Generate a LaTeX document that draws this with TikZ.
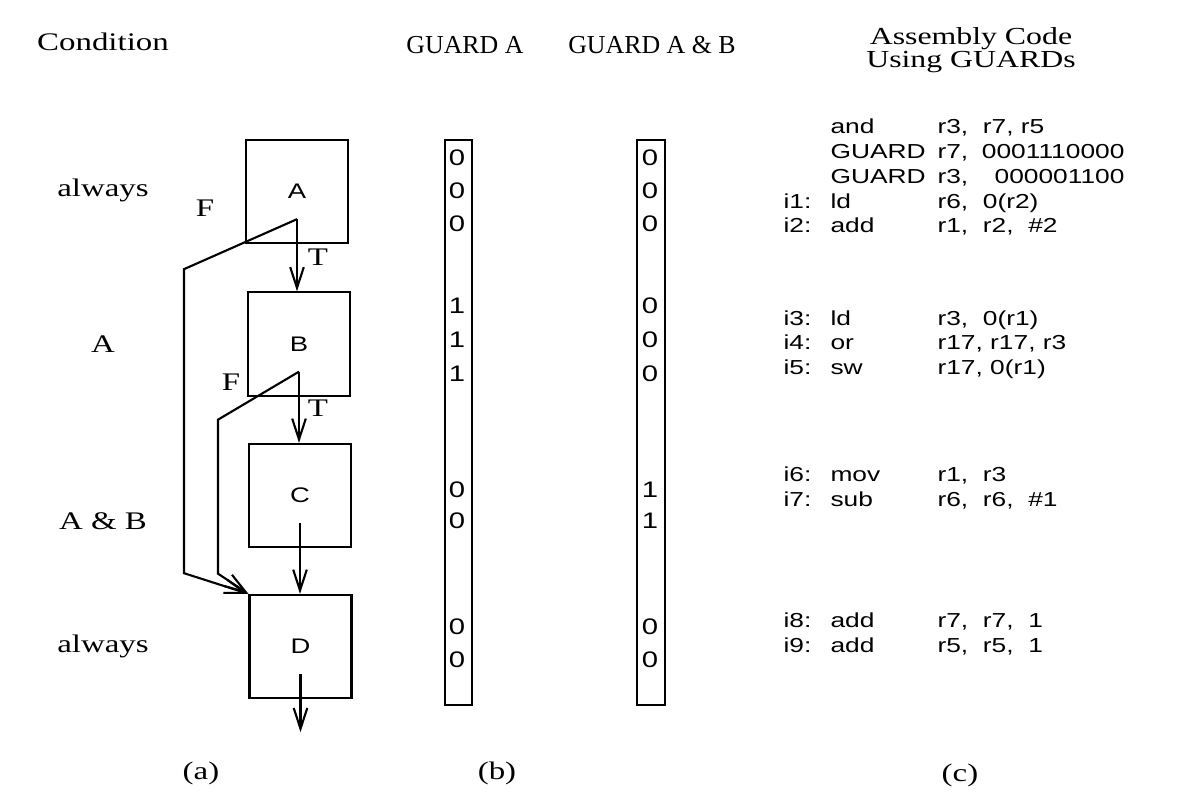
\documentclass[tikz,border=0pt]{standalone}
\usepackage{fontspec}
\setmainfont{Liberation Serif}[FakeStretch=1.3]
\setsansfont{Liberation Sans}[FakeStretch=1.3]
\newfontfamily\plainserif{Liberation Serif}
\usetikzlibrary{arrows.meta, calc}

\begin{document}
\begin{tikzpicture}[
  x=0.0125cm, y=-0.0125cm,
  every node/.style={font=\fontsize{9}{10.5}\selectfont},
  blk/.style={draw, line width=0.75pt, minimum width=1.275cm,
    minimum height=1.29cm, inner sep=0pt,
    font=\sffamily\fontsize{7.5}{9}\selectfont},
  bar/.style={draw, line width=0.75pt, minimum width=0.34cm,
    minimum height=7.06cm, inner sep=0pt},
  bit/.style={font=\sffamily\fontsize{8}{9}\selectfont, inner sep=0pt},
  code/.style={font=\sffamily\fontsize{7.2}{8.5}\selectfont,
    anchor=base west, inner sep=0pt},
  lbl/.style={font=\fontsize{9}{10.5}\selectfont, inner sep=1pt},
  head/.style={font=\plainserif\fontsize{9.2}{10.5}\selectfont, inner sep=1pt},
  flow/.style={line width=0.75pt, -{Straight Barb[length=2.6mm, width=1.7mm]}}
]
  \useasboundingbox (0,0) rectangle (1181,808);

  % Titel der Spalten
  \node[lbl] (hcond) at (103,42) {Condition};
  \node[head] (hga) at (465,45) {GUARD A};
  \node[head] (hgab) at (652,45) {GUARD A \& B};
  \node[lbl, align=center, font=\fontsize{8.7}{8.3}\selectfont]
    (hasm) at (971,50) {Assembly Code\\Using GUARDs};

  % Bedingungen
  \node[lbl] (cA1) at (103,190) {always};
  \node[lbl] (cA2) at (103,344) {A};
  \node[lbl] (cA3) at (103,521) {A \& B};
  \node[lbl] (cA4) at (103,646) {always};

  % Grundbloecke
  \node[blk] (A) at (297,191.5) {A};
  \node[blk] (B) at (299,344) {B};
  \node[blk] (C) at (300,495.5) {C};
  \node[blk] (D) at (300.5,646.5) {D};

  \coordinate (aT) at ($(A.south)+(0,-25)$);
  \coordinate (bT) at ($(B.south)+(0,-25)$);
  \coordinate (cT) at ($(C.south)+(0,-25)$);
  \coordinate (dT) at ($(D.south)+(0,-25)$);
  \coordinate (dOut) at ($(D.south)+(0,33)$);

  % Kanten T / F
  \draw[flow] (aT) -- (aT |- B.north);
  \draw[flow] (aT) -- ++(-113,50) -- ++(0,304) -- (D.north west);
  \draw[flow] (bT) -- (bT |- C.north);
  \draw[flow] (bT) -- ++(-81,48) -- ++(0,154) -- (D.north west);
  \draw[flow] (cT) -- (cT |- D.north);
  \draw[flow] (dT) -- (dOut);

  \node[lbl] (tA) at (318,257) {T};
  \node[lbl] (fA) at (205,208) {F};
  \node[lbl] (tB) at (318,408) {T};
  \node[lbl] (fB) at (231,382) {F};

  % Guard-Register
  \node[bar] (barA) at (458.5,422.5) {};
  \node[bar] (barAB) at (651,422.5) {};
  \foreach \yy/\va/\vb [count=\k] in {158/0/0, 191/0/0, 224/0/0,
      306/1/0, 340/1/0, 374/1/0, 490/0/1, 521/0/1, 627/0/0, 660/0/0} {
    \node[bit] (ga\k) at (457,\yy) {\va};
    \node[bit] (gab\k) at (650,\yy) {\vb};
  }

  % Code
  \node[code] (op1) at (830,133) {and};
  \node[code] (arg1) at (937,133) {r3,\ \ r7, r5};
  \node[code] (op2) at (830,158) {GUARD};
  \node[code] (arg2) at (937,158) {r7,};
  \node[code, anchor=base east] (msk2) at (1125,158) {0001110000};
  \node[code] (op3) at (830,183) {GUARD};
  \node[code] (arg3) at (937,183) {r3,};
  \node[code, anchor=base east] (msk3) at (1125,183) {000001100};
  \foreach \yy/\lab/\op/\arg [count=\k] in {
      208/i1:/ld/{r6,\ \ 0(r2)},
      232/i2:/add/{r1,\ \ r2,\ \ \#2},
      325/i3:/ld/{r3,\ \ 0(r1)},
      349/i4:/or/{r17, r17, r3},
      374/i5:/sw/{r17, 0(r1)},
      481/i6:/mov/{r1,\ \ r3},
      506/i7:/sub/{r6,\ \ r6,\ \ \#1},
      627/i8:/add/{r7,\ \ r7,\ \ 1},
      652/i9:/add/{r5,\ \ r5,\ \ 1}} {
    \node[code] (il\k) at (783,\yy) {\lab};
    \node[code] (im\k) at (830,\yy) {\op};
    \node[code] (ia\k) at (937,\yy) {\arg};
  }

  % Teilbilder
  \node[lbl] (sa) at (201,773) {(a)};
  \node[lbl] (sb) at (497,773) {(b)};
  \node[lbl] (sc) at (960,775) {(c)};
\end{tikzpicture}
\end{document}
